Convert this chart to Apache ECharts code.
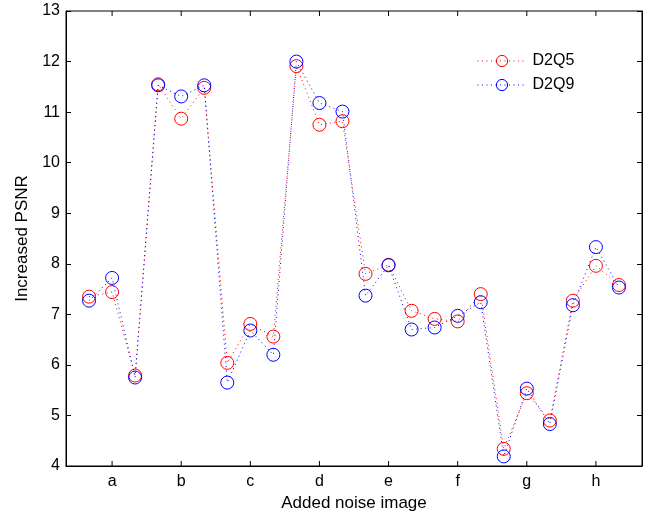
<!DOCTYPE html>
<html>
<head>
<meta charset="utf-8">
<script src="https://cdn.jsdelivr.net/npm/echarts@6/dist/echarts.min.js"></script>
<style>
    html, body { margin: 0; padding: 0; background: #fff; }
    #main { width: 648px; height: 513px; }
</style>
</head>
<body>
<div id="main"></div>
<script>
    // 每组三张图像，横坐标 1..24
    let categories = ['a', 'b', 'c', 'd', 'e', 'f', 'g', 'h'];
    let categoryPos = [2, 5, 8, 11, 14, 17, 20, 23];
    let d2q5 = [7.35, 7.44, 5.79, 11.55, 10.87, 11.48, 6.04, 6.81, 6.56, 11.91, 10.75, 10.82,
        7.80, 7.98, 7.07, 6.91, 6.86, 7.40, 4.34, 5.44, 4.90, 7.27, 7.96, 7.58];
    let d2q9 = [7.27, 7.72, 5.75, 11.53, 11.31, 11.53, 5.65, 6.68, 6.20, 12.00, 11.18, 11.01,
        7.37, 7.97, 6.70, 6.74, 6.97, 7.24, 4.19, 5.53, 4.83, 7.18, 8.33, 7.53];

    let font = 'Liberation Sans, Arial, Helvetica, sans-serif';

    function toPoints(values) {
        let pts = [];
        for (let i = 0; i < values.length; i++) {
            pts.push([i + 1, values[i]]);
        }
        return pts;
    }

    function labelOf(v) {
        let idx = categoryPos.indexOf(v);
        return idx >= 0 ? categories[idx] : '';
    }

    function lineSeries(name, values, color, z) {
        return {
            name: name,
            type: 'line',
            data: toPoints(values),
            symbol: 'circle',
            symbolSize: 13,
            color: color,
            lineStyle: {color: color, width: 1, type: [1, 3.5]},
            itemStyle: {color: 'rgba(255,255,255,0)', borderColor: color, borderWidth: 1},
            emphasis: {disabled: true},
            z: z
        };
    }

    let chart = echarts.init(document.getElementById('main'));

    let axisLine = {show: true, lineStyle: {color: '#000', width: 1}};
    let tick = {show: true, inside: true, length: 5, lineStyle: {color: '#000'}};

    let option = {
        animation: false,
        backgroundColor: '#fff',
        textStyle: {fontFamily: font},
        grid: {left: 66, right: 6, top: 11, bottom: 47, outerBoundsMode: 'none'},
        legend: {
            left: 472,
            top: 48,
            orient: 'vertical',
            itemWidth: 49,
            itemHeight: 14,
            itemGap: 8,
            itemStyle: {borderWidth: 1},
            lineStyle: {width: 1},
            textStyle: {fontFamily: font, fontSize: 16, color: '#000', padding: [0, 0, 0, 1]},
            data: ['D2Q5', 'D2Q9']
        },
        xAxis: {
            type: 'value',
            min: 0,
            max: 25,
            interval: 1,
            name: 'Added noise image',
            nameLocation: 'middle',
            nameGap: 27,
            nameTextStyle: {fontFamily: font, fontSize: 17, color: '#000'},
            axisLine: axisLine,
            axisTick: {show: false},
            splitLine: {show: false},
            axisLabel: {
                color: '#000', fontSize: 16, fontFamily: font, margin: 8,
                formatter: labelOf
            }
        },
        yAxis: [{
            type: 'value',
            min: 4,
            max: 13,
            interval: 1,
            name: 'Increased PSNR',
            nameLocation: 'middle',
            nameGap: 27,
            nameTextStyle: {fontFamily: font, fontSize: 17, color: '#000'},
            axisLine: axisLine,
            axisTick: tick,
            splitLine: {show: false},
            axisLabel: {color: '#000', fontSize: 16, fontFamily: font, margin: 6}
        }, {
            type: 'value',
            min: 4,
            max: 13,
            interval: 1,
            position: 'right',
            axisLine: axisLine,
            axisTick: tick,
            splitLine: {show: false},
            axisLabel: {show: false}
        }],
        series: [
            lineSeries('D2Q5', d2q5, '#ff0000', 2),
            lineSeries('D2Q9', d2q9, '#0000ff', 3),
            {
                // x 轴刻度（底部与顶部，向内）
                type: 'custom',
                silent: true,
                data: categoryPos.map(function (v) { return [v]; }),
                renderItem: function (params, api) {
                    let bottom = api.coord([api.value(0), 4]);
                    let top = api.coord([api.value(0), 13]);
                    return {
                        type: 'group',
                        children: [
                            {type: 'line', shape: {x1: bottom[0], y1: bottom[1], x2: bottom[0], y2: bottom[1] - 5}, style: {stroke: '#000', lineWidth: 1}},
                            {type: 'line', shape: {x1: top[0], y1: top[1], x2: top[0], y2: top[1] + 5}, style: {stroke: '#000', lineWidth: 1}}
                        ]
                    };
                },
                z: 1
            }
        ],
        graphic: [{
            type: 'rect',
            shape: {x: 66, y: 11, width: 576, height: 455},
            style: {fill: 'none', stroke: '#000', lineWidth: 1},
            silent: true,
            z: 0
        }]
    };

    chart.setOption(option);
</script>
</body>
</html>
